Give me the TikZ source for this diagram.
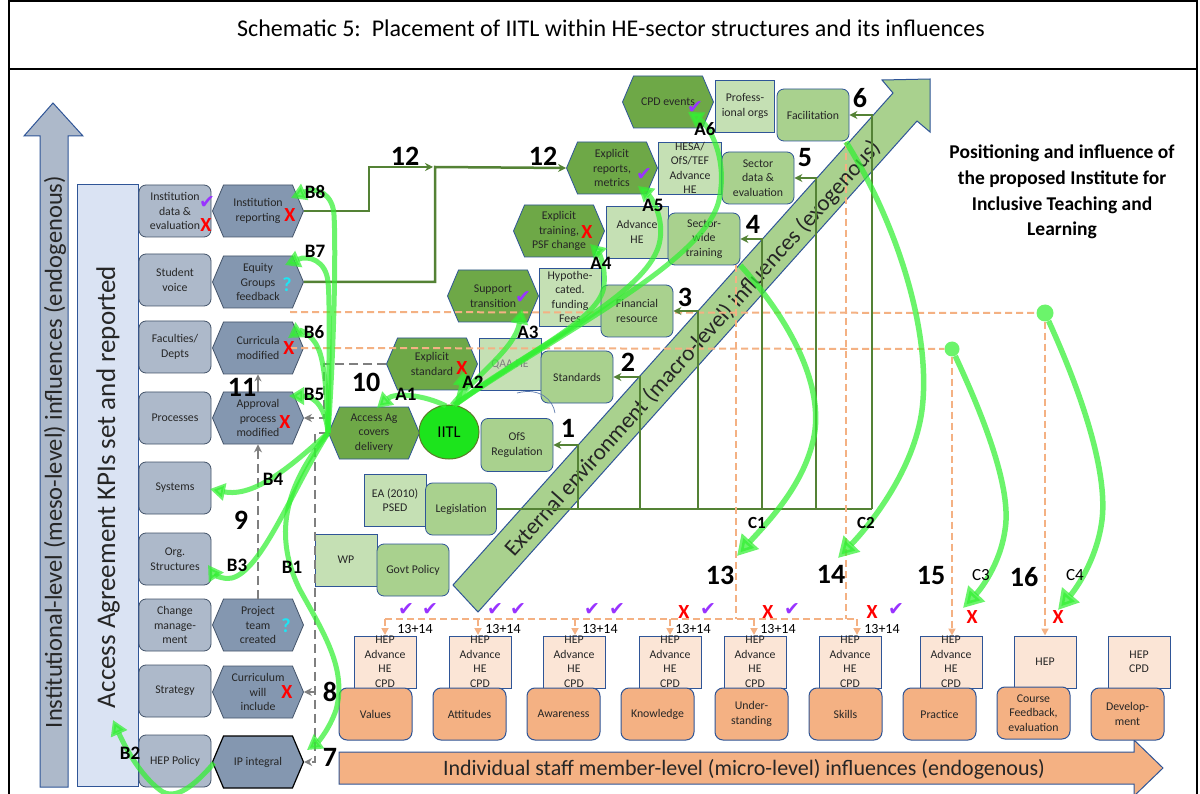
\documentclass[tikz,border=0pt]{standalone}
\usepackage{fontspec}
\setmainfont{Carlito}
\newfontfamily\symfont{DejaVu Sans}
\usetikzlibrary{shapes.geometric,shapes.symbols,arrows.meta}

\definecolor{mesofill}{HTML}{ADB9CA}
\definecolor{hexfill}{HTML}{8497B0}
\definecolor{slateline}{HTML}{44546A}
\definecolor{aafill}{HTML}{DAE3F3}
\definecolor{blueline}{HTML}{2F5597}
\definecolor{ghexfill}{HTML}{6EA847}
\definecolor{lgfill}{HTML}{C5E0B4}
\definecolor{mgfill}{HTML}{A9D18E}
\definecolor{ladder}{HTML}{548235}
\definecolor{orangefill}{HTML}{F4B183}
\definecolor{peachfill}{HTML}{FBE5D6}
\definecolor{dashorange}{HTML}{F4B183}
\definecolor{flow}{HTML}{33F033}
\definecolor{iitlfill}{HTML}{1CE41C}
\definecolor{iitlline}{HTML}{5B7A28}
\definecolor{tickpurple}{HTML}{9933FF}
\definecolor{qcyan}{HTML}{1FE4F2}
\definecolor{grayline}{HTML}{7F7F7F}
\definecolor{boxtext}{HTML}{262626}

\tikzset{
  txt/.style={font=\fontsize{11.8}{14.5}\selectfont, text=boxtext, align=center},
  mbox/.style={txt, draw=slateline, line width=0.8pt, fill=mesofill, rounded corners=7pt,
    minimum width=72pt, minimum height=52pt, inner sep=0pt},
  hexbase/.style={txt, signal, signal to=east and west, signal pointer angle=134,
    line width=0.8pt, minimum width=91pt, minimum height=52pt, inner sep=0pt},
  mhex/.style={hexbase, draw=slateline, fill=hexfill},
  ghex/.style={hexbase, draw=blueline, fill=ghexfill},
  lgbox/.style={txt, draw=blueline, line width=0.8pt, fill=lgfill,
    minimum width=62pt, minimum height=52pt, inner sep=0pt},
  mgbox/.style={txt, draw=blueline, line width=0.8pt, fill=mgfill, rounded corners=7pt,
    minimum width=72pt, minimum height=52pt, inner sep=0pt},
  obox/.style={txt, draw=blueline, line width=1pt, fill=orangefill, rounded corners=8pt,
    minimum width=73pt, minimum height=52pt, inner sep=0pt},
  pbox/.style={txt, draw=blueline, line width=1pt, fill=peachfill,
    minimum width=62pt, minimum height=52pt, inner sep=0pt},
  ladderline/.style={draw=ladder, line width=2.5pt},
  ladderarrow/.style={ladderline, -{Stealth[length=8pt,width=8pt]}},
  odash/.style={draw=dashorange, line width=2pt, dash pattern=on 7pt off 4pt},
  odarrow/.style={odash, -{Triangle[length=7pt,width=7pt]}},
  gdash/.style={draw=grayline, line width=2.5pt, dash pattern=on 9pt off 5pt},
  gdarrow/.style={gdash, -{Stealth[length=8pt,width=8pt]}},
  flowbase/.style={draw=flow, opacity=0.72, line width=5pt},
  flowA/.style={flowbase, -{Triangle[length=15pt,width=17pt]}},
  flowC/.style={flowbase, line width=5.5pt, -{Triangle[length=20pt,width=22pt]}},
  numlbl/.style={font=\fontsize{28}{28}\selectfont\bfseries, inner sep=0pt},
  ablbl/.style={font=\fontsize{19}{19}\selectfont\bfseries, inner sep=0pt},
  smlbl/.style={font=\fontsize{14}{14}\selectfont, inner sep=0pt},
  tick/.style={font=\symfont\fontsize{19}{19}\selectfont, text=tickpurple, inner sep=0pt},
  cross/.style={font=\fontsize{20}{20}\selectfont\bfseries, text=red, inner sep=0pt},
  qmark/.style={font=\fontsize{20}{20}\selectfont\bfseries, text=qcyan, inner sep=0pt},
}

\begin{document}
\begin{tikzpicture}[x=1pt,y=-1pt]
\useasboundingbox (0,0) rectangle (1200,794);
\fill[white] (0,0) rectangle (1200,794);

% ---------- frame and title ----------
\draw[line width=2pt] (9,-3) -- (9,797);
\draw[line width=2pt] (9,1) -- (1197,1);
\draw[line width=2pt] (1197,-3) -- (1197,797);
\draw[line width=2pt] (9,69) -- (1197,69);
\node[font=\fontsize{24}{24}\selectfont] (title) at (611,28)
  {Schematic 5:\ \ Placement of IITL within HE-sector structures and its influences};

% ---------- large background arrows ----------
\draw[fill=mesofill, draw=blueline, line width=1pt]
  (40,787) -- (40,136) -- (24,136) -- (53,103) -- (83,136) -- (68,136) -- (68,787) -- cycle;
\node[rotate=90, font=\fontsize{24.5}{24.5}\selectfont, text=boxtext] (mesotxt) at (55,452)
  {Institutional-level (meso-level) influences (endogenous)};

\draw[fill=aafill, draw=blueline, line width=1pt] (77,185) rectangle (138,786);
\node[rotate=90, font=\fontsize{27}{27}\selectfont, text=boxtext] (aatxt) at (108,487)
  {Access Agreement KPIs set and reported};

\draw[fill=mgfill, draw=blueline, line width=1pt]
  (453,585) -- (893,93) -- (882,80) -- (930,79) -- (930,132) -- (917,121) -- (478,612) -- cycle;
\node[rotate=48.1, font=\fontsize{23}{23}\selectfont, text=boxtext] (extxt) at (693,349)
  {External environment (macro-level) influences (exogenous)};

\draw[fill=orangefill, draw=blueline, line width=1pt]
  (339,752) -- (1134,752) -- (1134,740) -- (1163,768) -- (1134,796) -- (1134,784) -- (339,784) -- cycle;
\node[font=\fontsize{22}{22}\selectfont, text=boxtext] (microtxt) at (744,769)
  {Individual staff member-level (micro-level) influences (endogenous)};

% ---------- institutional column ----------
\node[mbox] (ida) at (175,211) {Institution\\data \&\\evaluation};
\node[mbox] (sv)  at (175,280) {Student\\voice};
\node[mbox] (fd)  at (175,347) {Faculties/\\Depts};
\node[mbox] (pr)  at (175,418) {Processes};
\node[mbox] (sy)  at (175,488) {Systems};
\node[mbox] (os)  at (175,559) {Org.\\Structures};
\node[mbox] (cm)  at (175,625) {Change\\manage-\\ment};
\node[mbox] (st)  at (175,691) {Strategy};
\node[mbox] (hp)  at (175,761) {HEP Policy};

\node[mhex] (ir)   at (258,211) {Institution\\reporting};
\node[mhex] (eg)   at (258,282) {Equity\\Groups\\feedback};
\node[mhex] (cmod) at (258,348) {Curricula\\modified};
\node[mhex] (ap)   at (258,418) {Approval\\process\\modified};
\node[mhex] (pt)   at (258,625) {Project\\team\\created};
\node[mhex] (cw)   at (258,692) {Curriculum\\will\\include};
\node[mhex, draw=black, line width=1.2pt] (ip) at (258,762) {IP integral};

% ---------- sector-level boxes ----------
\node[ghex] (cpd)  at (668,102) {CPD events};
\node[ghex] (erep) at (612,168) {Explicit\\reports,\\metrics};
\node[ghex] (etr)  at (559,231) {Explicit\\training,\\PSF change};
\node[ghex] (sup)  at (493,296) {Support\\transition};
\node[ghex] (estd) at (432,364) {Explicit\\standard};
\node[ghex] (acc)  at (374,433) {Access Ag\\covers\\delivery};

\node[lgbox, minimum width=59pt] (prof) at (745,106) {Profess-\\ional orgs};
\node[lgbox, minimum width=63pt] (hesa) at (690,168) {HESA/\\OfS/TEF\\Advance\\HE};
\node[lgbox] (ahe) at (637,232) {Advance\\HE};
\node[lgbox, minimum height=58pt] (hyp) at (570,297) {Hypothe-\\cated.\\funding\\Fees};
\node[lgbox, text=gray] (qaa) at (510,364) {QAA HE};
\node[lgbox] (ea) at (395,500) {EA (2010)\\PSED};
\node[lgbox] (wp) at (346,560) {WP};

\node[mgbox] (fac)  at (813,115) {Facilitation};
\node[mgbox] (sdat) at (758,178) {Sector\\data \&\\evaluation};
\node[mgbox] (swt)  at (704,239) {Sector-\\wide\\training};
\node[mgbox] (stdd) at (577,377) {Standards};
\node[mgbox, minimum height=53pt] (ofs) at (517,445) {OfS\\Regulation};
\node[mgbox, minimum width=71pt] (leg) at (461,509) {Legislation};
\node[mgbox] (gov)  at (413,570) {Govt Policy};

\node[ellipse, draw=iitlline, line width=1pt, fill=iitlfill, minimum width=60pt,
  minimum height=54pt, inner sep=0pt, font=\fontsize{16.5}{16.5}\selectfont] (iitl) at (449,432) {IITL};

% thin outline trace beside the standards box
\draw[blueline!80, line width=0.7pt] (517,393) .. controls (540,387) and (553,400) .. (555,413);

% ---------- green ladder of external influences ----------
\draw[ladderline] (leg.east) -- (872,509);
\draw[ladderarrow] (578,509) |- (ofs.east);
\draw[ladderarrow] (640,509) |- (stdd.east);
\draw[ladderarrow] (762,509) |- (swt.east);
\draw[ladderarrow] (816,509) |- (sdat.east);
\draw[ladderarrow] (872,509) |- (fac.east);

% route 12: reporting and feedback up to explicit reports
\coordinate (r12) at (433,167);
\draw[ladderarrow] (ir.east) -- (369,211) -- (369,167) -- (r12);
\draw[ladderarrow] (eg.east) -- (435,282) -- (435,167) -- (erep.west);

% ---------- individual-level row ----------
\foreach \i/\px/\tx in {1/385/{HEP\\Advance\\HE\\CPD},2/480/{HEP\\Advance\\HE\\CPD},
  3/574/{HEP\\Advance\\HE\\CPD},4/670/{HEP\\Advance\\HE\\CPD},5/755/{HEP\\Advance\\HE\\CPD},
  6/850/{HEP\\Advance\\HE\\CPD},7/951/{HEP\\Advance\\HE\\CPD},8/1045/{HEP},9/1139/{HEP\\CPD}}
  \node[pbox] (pk\i) at (\px,662) {\tx};

\node[obox] (o1) at (375.5,714) {Values};
\node[obox] (o2) at (469.5,714) {Attitudes};
\node[obox] (o3) at (563.5,714) {Awareness};
\node[obox] (o4) at (657.5,714) {Knowledge};
\node[obox] (o5) at (751.5,714) {Under-\\standing};
\node[obox] (o6) at (845.5,714) {Skills};
\node[obox] (o7) at (939.5,714) {Practice};
\node[obox] (o8) at (1033.5,713) {Course\\Feedback,\\evaluation};
\node[obox] (o9) at (1127.5,714) {Develop-\\ment};

% ---------- orange dashed feedback routes ----------
\node[circle, fill=flow, opacity=0.72, minimum size=15pt, inner sep=0pt] (dota) at (952,349) {};
\node[circle, fill=flow, opacity=0.72, minimum size=17pt, inner sep=0pt] (dotb) at (1045,313) {};
\draw[odash] (290,312) -- (dotb);
\draw[odash] (290,348) -- (dota);
\draw[odarrow] (dota) -- (dota |- pk7.north);
\draw[odarrow] (dotb) -- (dotb |- pk8.north);
\draw[odash] (736,265) -- (736,619);
\draw[odash] (846,142) -- (846,619);
\draw[odash] (385,619) -- (857,619);
\foreach \ax in {385,478,575,670,754,857}
  \draw[odarrow] (\ax,619) -- (\ax,635);

% financial resource sits above the dashed route
\node[mgbox] (fin) at (637,311) {Financial\\resource};
\draw[ladderarrow] (698,509) |- (fin.east);

% ---------- grey internal routes ----------
\draw[gdarrow] (estd.west) -- (324,364) -- (324,418) -- (ap.east);
\draw[gdarrow] (acc.west) -- (315,433) -- (315,762) -- (ip.east);
\draw[gdarrow] (315,692) -- (cw.east);
\draw[gdarrow] (pt.north) -- (ap.south);
\draw[draw=grayline, line width=2pt, -{Stealth[length=7pt,width=7pt]}] (ap.north) -- (cmod.south);

% ---------- status marks ----------
\node[tick] (k1) at (207,203) {✔};
\node[cross] (x1) at (206,225) {X};
\node[cross] (x2) at (290,215) {X};
\node[qmark] (q1) at (287,285) {?};
\node[cross] (x3) at (289,348) {X};
\node[cross] (x4) at (285,422) {X};
\node[qmark] (q2) at (286,626) {?};
\node[cross] (x5) at (287,692) {X};
\node[tick] (k2) at (695,108) {✔};
\node[tick] (k3) at (644,175) {✔};
\node[cross] (x6) at (587,232) {X};
\node[tick] (k4) at (523,298) {✔};
\node[cross] (x7) at (462,368) {X};

\foreach \kx in {406,430,495,518,592,617,708,792,896}
  \node[tick] at (\kx,610) {✔};
\foreach \xx in {684,768,872}
  \node[cross] at (\xx,612) {X};
\node[cross] (xc3) at (972,617) {X};
\node[cross] (xc4) at (1058,617) {X};

\foreach \lx in {415,503,600,693,778,882}
  \node[smlbl] at (\lx,629) {13+14};

% ---------- IITL influence flows ----------
\coordinate (a1e) at (377,408);
\coordinate (a2e) at (464,371);
\coordinate (a3e) at (522,309);
\coordinate (a4e) at (590,244);
\coordinate (a5e) at (638,186);
\coordinate (a6e) at (688,112);
\draw[flowA] (446,406) .. controls (425,395) and (395,392) .. (a1e);
\draw[flowA] (457,405) .. controls (460,392) and (462,385) .. (a2e);
\draw[flowA] (452,405) .. controls (480,372) and (515,348) .. (a3e);
\draw[flowA] (454,405) .. controls (520,355) and (602,320) .. (604,285)
  .. controls (606,265) and (598,252) .. (a4e);
\draw[flowA] (455,405) .. controls (540,342) and (652,292) .. (660,240)
  .. controls (664,215) and (650,196) .. (a5e);
\draw[flowA] (456,404) .. controls (560,332) and (705,262) .. (719,200)
  .. controls (728,160) and (710,126) .. (a6e);

\coordinate (b8e) at (291,198);
\coordinate (b7e) at (285,265);
\coordinate (b6e) at (288,338);
\coordinate (b5e) at (289,396);
\coordinate (b4e) at (210,489);
\coordinate (b3e) at (208,565);
\coordinate (b1e) at (307,750);
\coordinate (b2s) at (214,763);
\coordinate (b2e) at (113,720);
\draw[flowA] (acc.west) .. controls (334,350) and (336,250) .. (334,215)
  .. controls (333,195) and (318,186) .. (b8e);
\draw[flowA] (acc.west) .. controls (329,370) and (330,300) .. (328,282)
  .. controls (326,260) and (308,255) .. (b7e);
\draw[flowA] (acc.west) .. controls (327,400) and (325,362) .. (318,348)
  .. controls (312,334) and (300,330) .. (b6e);
\draw[flowA] (acc.west) .. controls (326,410) and (316,396) .. (b5e);
\draw[flowA] (acc.west) .. controls (292,465) and (255,498) .. (b4e);
\draw[flowA] (acc.west) .. controls (292,490) and (262,570) .. (232,578)
  .. controls (222,580) and (214,574) .. (b3e);
\draw[flowA] (acc.west) .. controls (290,480) and (270,530) .. (300,590)
  .. controls (325,635) and (347,670) .. (336,710) .. controls (329,730) and (318,742) .. (b1e);
\draw[flowA] (b2s) .. controls (195,785) and (175,802) .. (160,790)
  .. controls (140,775) and (125,747) .. (b2e);

\coordinate (c1e) at (737,556);
\coordinate (c2e) at (838,558);
\coordinate (c3e) at (963,608);
\coordinate (c4e) at (1058,610);
\draw[flowC] (swt.south east) .. controls (790,320) and (828,390) .. (812,445)
  .. controls (800,490) and (765,525) .. (c1e);
\draw[flowC] (846,142) .. controls (895,220) and (932,330) .. (922,410)
  .. controls (914,470) and (870,525) .. (c2e);
\draw[flowC] (dota) .. controls (985,420) and (1012,490) .. (1005,530)
  .. controls (1000,565) and (980,590) .. (c3e);
\draw[flowC] (dotb) .. controls (1080,390) and (1108,470) .. (1102,520)
  .. controls (1097,560) and (1075,590) .. (c4e);

% ---------- labels ----------
\node[numlbl] (n1) at (568,428) {1};
\node[numlbl] (n2) at (628,362) {2};
\node[numlbl] (n3) at (685,297) {3};
\node[numlbl] (n4) at (753,224) {4};
\node[numlbl] (n5) at (805,158) {5};
\node[numlbl] (n6) at (860,98) {6};
\node[numlbl] (n7) at (330,757) {7};
\node[numlbl] (n8) at (330,692) {8};
\node[numlbl] (n9) at (241,520) {9};
\node[numlbl] (n10) at (366,382) {10};
\node[numlbl] (n11) at (242,387) {11};
\node[numlbl] (n12a) at (405,156) {12};
\node[numlbl] (n12b) at (543,156) {12};
\node[numlbl] (n13) at (720,575) {13};
\node[numlbl] (n14) at (831,574) {14};
\node[numlbl] (n15) at (931,576) {15};
\node[numlbl] (n16) at (1024,577) {16};

\node[ablbl] (la1) at (406,394) {A1};
\node[ablbl] (la2) at (473,382) {A2};
\node[ablbl] (la3) at (528,332) {A3};
\node[ablbl] (la4) at (601,263) {A4};
\node[ablbl] (la5) at (653,205) {A5};
\node[ablbl] (la6) at (705,129) {A6};
\node[ablbl] (lb1) at (292,567) {B1};
\node[ablbl] (lb2) at (130,753) {B2};
\node[ablbl] (lb3) at (237,565) {B3};
\node[ablbl] (lb4) at (273,479) {B4};
\node[ablbl] (lb5) at (314,394) {B5};
\node[ablbl] (lb6) at (314,332) {B6};
\node[ablbl] (lb7) at (315,251) {B7};
\node[ablbl] (lb8) at (315,192) {B8};
\node[font=\fontsize{17}{17}\selectfont\bfseries, inner sep=0pt] (lc1) at (757,523) {C1};
\node[font=\fontsize{17}{17}\selectfont\bfseries, inner sep=0pt] (lc2) at (866,523) {C2};
\node[font=\fontsize{17}{17}\selectfont, inner sep=0pt] (lc3) at (981,575) {C3};
\node[font=\fontsize{17}{17}\selectfont, inner sep=0pt] (lc4) at (1075,575) {C4};

\node[font=\fontsize{19.5}{25.8}\selectfont\bfseries, align=center] (posn) at (1062,192)
  {Positioning and influence of\\the proposed Institute for\\Inclusive Teaching and\\Learning};
\end{tikzpicture}
\end{document}
